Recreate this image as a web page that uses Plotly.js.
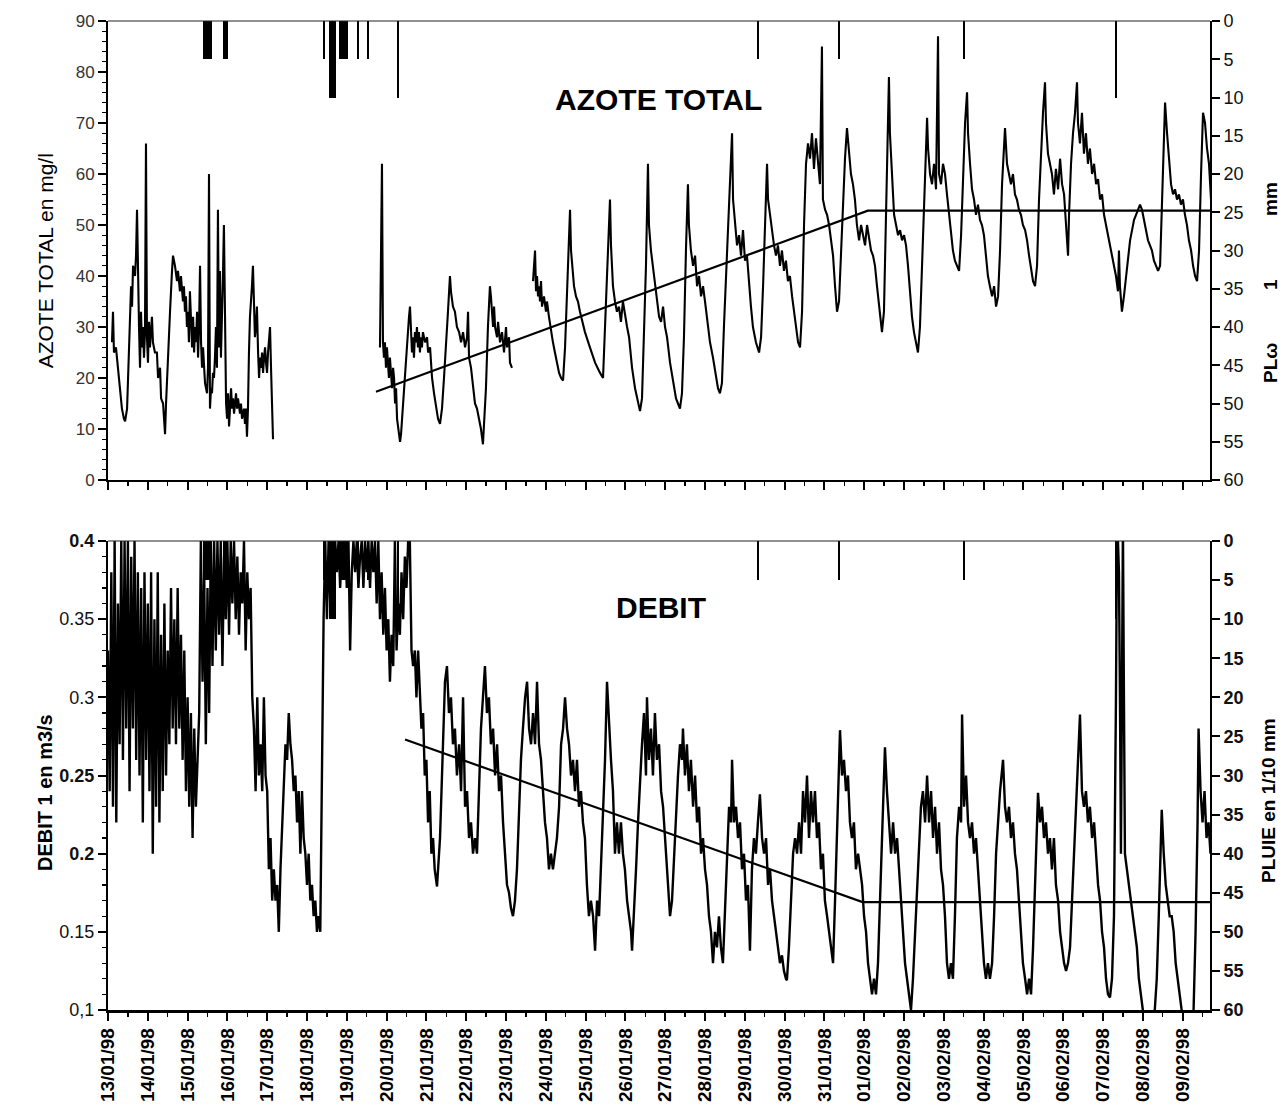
<!DOCTYPE html>
<html>
<head>
<meta charset="utf-8">
<script src="https://cdn.plot.ly/plotly-3.0.1.min.js"></script>
<style>
  html, body { margin: 0; padding: 0; background: #fff; }
  #graphe { width: 1288px; height: 1107px; }
</style>
</head>
<body>
<div id="graphe"></div>
<script>
// Azote total (mg/l): [heures depuis le 13/01/98 00:00, valeur]; null = lacune de mesure
const azoteReleves = [
  [2.4,27],[3.0,33],[3.6,25],[4.8,26],[6.0,22],[7.2,18],[8.4,14],[9.6,12],[10.3,11.5],[11.5,14],[12.7,25],[13.9,38],[14.5,34],[15.1,42],[16.3,40],[16.9,44],[17.5,53],[18.1,35],[18.7,30],[19.3,22],[19.9,33],[20.5,26],[21.1,30],[21.7,24],[22.3,29],[22.9,66],[23.5,28],[24.1,23],[24.7,31],[25.3,26],[25.9,30],[26.5,32],[27.1,27],[28.3,25],[29.5,25],[30.2,20],[31.4,22],[32.0,16],[33.2,15],[34.4,9],[35.0,15],[36.2,25],[37.4,33],[38.6,41],[39.2,44],[40.4,42],[41.6,39],[42.2,41],[43.4,37],[44.0,40],[45.2,35],[45.8,38],[46.4,33],[47.0,36],[47.6,30],[48.2,33],[48.8,27],[49.4,37],[50.0,30],[50.7,26],[51.3,32],[51.9,25],[52.5,30],[53.1,27],[53.7,33],[54.3,24],[54.9,30],[55.5,42],[56.1,27],[56.7,22],[57.3,26],[58.5,19],[59.7,17],[60.3,22],[60.9,60],[61.5,14],[62.1,18],[62.7,17],[63.3,21],[63.9,20],[64.5,24],[65.1,30],[65.7,22],[66.3,53],[66.9,26],[67.5,41],[68.1,24],[68.7,30],[69.3,40],[69.9,50],[70.6,26],[71.2,15],[71.8,12],[72.4,17],[73.0,10.5],[73.6,15],[74.2,18],[74.8,14],[75.4,16],[76.0,13],[77.2,17],[77.8,14],[78.4,16],[79.6,13],[80.2,15],[80.8,12],[82.0,14],[82.6,11],[83.2,14],[83.8,8.5],[84.4,14],[85.0,25],[85.6,32],[86.8,38],[87.4,42],[88.0,35],[88.6,28],[89.2,30],[89.8,34],[90.5,25],[91.1,20],[91.7,24],[92.3,22],[92.9,25],[93.5,21],[94.1,24],[94.7,26],[95.3,23],[95.9,21],[96.5,25],[97.1,27],[97.7,30],[98.3,22],[98.9,14],[99.5,8],
  [130,null],
  [164.0,26],[164.6,40],[165.2,62],[165.8,27],[166.4,24],[167.0,27],[167.6,22],[168.2,26],[168.8,23],[169.4,20],[170.0,24],[170.6,21],[171.3,18],[171.9,22],[172.5,20],[173.1,15],[173.7,18],[174.3,12],[174.9,10],[176.1,7.5],[176.7,9],[177.9,15],[179.1,22],[180.3,28],[181.5,32],[182.1,34],[182.7,30],[183.3,25],[183.9,28],[184.5,24],[185.1,29],[185.7,27],[186.3,30],[186.9,26],[187.5,29],[188.1,25],[188.7,28],[189.3,26],[189.9,29],[191.2,27],[192.4,28],[193.0,25],[194.2,26],[195.4,20],[196.6,17],[197.8,14],[199.0,12],[200.2,11],[201.4,14],[202.6,20],[203.8,28],[205.0,33],[206.2,40],[206.8,37],[208.0,34],[209.2,33],[210.4,30],[211.7,29],[212.9,27],[214.1,29],[215.3,26],[216.5,28],[217.1,33],[217.7,24],[218.9,22],[220.1,18],[221.3,15],[222.5,14],[223.7,12],[224.9,10],[226.1,7],[226.7,10],[227.9,18],[229.1,30],[230.3,38],[230.9,36],[231.6,33],[232.2,30],[232.8,34],[233.4,30],[234.6,28],[235.2,31],[236.4,27],[237.6,29],[238.8,25],[240.0,30],[240.6,26],[241.8,28],[242.4,23],[243.6,22],
  [250,null],
  [256.3,39],[257.5,45],[258.1,37],[258.7,40],[259.3,36],[259.9,38],[260.5,35],[261.1,39],[261.7,34],[262.9,36],[264.1,33],[264.7,35],[265.9,32],[267.1,29],[268.3,27],[269.5,25],[270.7,23],[272.0,21],[273.2,20],[274.4,19.5],[275.6,26],[276.8,37],[278.0,47],[278.6,53],[279.2,45],[279.8,42],[281.0,38],[282.2,36],[283.4,35],[284.6,33],[287.6,29],[290.6,26],[293.7,23],[296.7,21],[298.5,20],[300.3,35],[301.5,47],[302.7,55],[303.3,46],[304.5,38],[305.7,35],[306.9,33],[308.1,34],[309.3,31],[310.5,35],[311.8,32],[313.0,30],[314.2,28],[316.0,22],[317.8,18],[319.6,15],[320.8,13.5],[322.0,16],[323.2,28],[324.4,42],[325.6,62],[326.2,50],[327.4,45],[328.6,42],[329.8,38],[331.0,36],[332.3,32],[333.5,31],[334.7,34],[335.9,30],[337.1,28],[338.9,23],[340.7,19],[342.5,16],[343.7,15],[344.9,14],[346.1,17],[347.3,28],[348.5,45],[349.7,58],[350.3,50],[351.5,45],[352.8,42],[354.0,44],[355.2,38],[356.4,40],[357.6,36],[358.8,38],[360.0,35],[361.2,32],[363.0,27],[364.8,24],[366.6,20],[367.8,18],[369.0,17],[370.2,19],[371.4,30],[373.3,45],[375.1,58],[376.3,68],[376.9,55],[378.1,50],[379.3,46],[380.5,48],[381.7,44],[382.9,49],[384.1,43],[385.3,44],[386.5,38],[387.7,34],[388.9,30],[390.7,27],[392.6,25],[393.8,28],[395.0,38],[396.2,50],[397.4,62],[398.0,55],[399.2,52],[400.4,48],[401.6,46],[402.8,44],[404.0,46],[405.2,42],[406.4,45],[407.6,41],[408.8,43],[410.0,39],[411.2,40],[412.5,36],[413.7,33],[414.9,30],[416.1,27],[417.3,26],[418.5,33],[419.7,50],[420.9,62],[422.1,66],[423.3,63],[424.5,68],[425.7,61],[426.9,67],[428.1,62],[429.3,58],[430.5,85],[431.1,55],[432.4,53],[433.6,52],[434.8,50],[436.0,47],[437.2,44],[438.4,38],[439.6,33],[440.8,35],[442.0,45],[443.2,55],[444.4,63],[445.6,69],[446.8,64],[448.0,60],[449.2,58],[450.4,55],[451.6,50],[452.9,47],[454.1,50],[455.3,48],[456.5,46],[457.7,50],[458.9,47],[460.1,45],[461.3,44],[462.5,42],[463.7,38],[464.9,34],[466.1,31],[466.7,29],[467.9,33],[469.1,50],[470.3,70],[470.9,79],[471.5,68],[472.8,58],[474.0,52],[475.2,50],[476.4,48],[477.6,49],[478.8,47],[480.0,48],[481.2,46],[482.4,42],[483.6,36],[484.8,32],[486.0,29],[487.2,27],[488.4,25],[489.6,30],[490.8,42],[492.0,55],[493.3,64],[493.9,71],[494.5,65],[495.7,60],[496.9,58],[498.1,62],[499.3,57],[500.5,87],[501.1,60],[502.3,58],[503.5,62],[504.7,60],[505.9,56],[507.1,52],[508.3,48],[509.5,45],[510.7,43],[511.9,42],[513.2,41],[514.4,48],[515.6,60],[516.8,70],[518.0,76],[518.6,68],[519.8,62],[521.0,57],[522.2,55],[523.4,52],[524.6,54],[525.8,51],[527.0,50],[528.2,48],[529.4,44],[530.6,40],[531.8,38],[533.1,36],[534.3,38],[535.5,34],[536.7,36],[537.9,45],[539.1,58],[540.3,66],[540.9,69],[542.1,62],[543.3,60],[544.5,58],[545.7,60],[546.9,56],[548.1,55],[549.3,53],[550.5,52],[551.7,50],[553.0,49],[554.2,47],[555.4,44],[556.6,41],[557.8,39],[559.0,38],[560.2,42],[561.4,55],[562.6,65],[563.8,72],[565.0,78],[565.6,70],[566.8,64],[568.0,62],[569.2,60],[570.4,56],[571.6,61],[572.9,57],[574.1,63],[575.3,58],[576.5,56],[577.7,50],[578.9,44],[579.5,52],[580.7,62],[581.9,68],[583.1,72],[584.3,78],[584.9,70],[586.1,66],[587.3,72],[588.5,64],[589.7,68],[590.9,62],[592.1,65],[593.4,60],[594.6,62],[595.8,58],[597.0,59],[598.2,55],[599.4,56],[600.6,52],[601.8,50],[603.0,48],[604.2,46],[605.4,44],[606.6,42],[607.8,40],[609.0,37],[609.6,45],[610.2,38],[611.4,33],[612.6,36],[613.9,40],[615.1,44],[616.3,47],[617.5,49],[618.7,51],[619.9,52],[621.1,53],[622.3,54],[623.5,53],[624.7,51],[625.9,49],[627.1,47],[628.3,46],[629.5,45],[630.7,43],[631.9,42],[633.2,41],[634.4,42],[635.6,55],[636.8,68],[637.4,74],[638.6,68],[639.8,62],[641.0,58],[642.2,56],[643.4,57],[644.6,55],[645.8,56],[647.0,54],[648.2,55],[649.4,52],[650.6,50],[651.8,47],[653.1,45],[654.3,42],[655.5,40],[656.7,39],[657.9,45],[659.1,60],[660.3,72],[661.5,70],[662.7,65],[663.9,62],[665.1,55]
];

// Debit (m3/s), pas horaire du 13/01/98 00:00 jusqu'a 197 h
const debitHoraire = [
  0.33,0.24,0.38,0.23,0.40,0.22,0.36,0.27,0.40,0.26,
  0.40,0.28,0.40,0.24,0.39,0.28,0.40,0.26,0.38,0.25,
  0.37,0.22,0.38,0.26,0.36,0.24,0.38,0.20,0.35,0.23,
  0.38,0.22,0.34,0.24,0.36,0.25,0.33,0.27,0.37,0.28,
  0.35,0.27,0.37,0.28,0.34,0.26,0.33,0.24,0.30,0.23,
  0.29,0.21,0.28,0.23,0.26,0.29,0.40,0.31,0.38,0.27,
  0.37,0.29,0.40,0.32,0.40,0.33,0.40,0.34,0.40,0.32,
  0.39,0.35,0.40,0.34,0.40,0.36,0.40,0.35,0.39,0.34,
  0.38,0.36,0.40,0.33,0.38,0.35,0.37,0.30,0.28,0.24,
  0.30,0.25,0.27,0.24,0.30,0.25,0.24,0.19,0.21,0.17,
  0.19,0.17,0.18,0.15,0.19,0.22,0.25,0.27,0.26,0.29,
  0.27,0.26,0.24,0.25,0.22,0.24,0.20,0.24,0.21,0.20,
  0.18,0.20,0.17,0.18,0.16,0.17,0.15,0.16,0.15,0.25,
  0.35,0.40,0.35,0.40,0.36,0.40,0.37,0.40,0.38,0.40,
  0.37,0.40,0.38,0.40,0.37,0.40,0.33,0.38,0.40,0.38,
  0.40,0.37,0.39,0.40,0.37,0.40,0.38,0.40,0.37,0.40,
  0.38,0.40,0.36,0.40,0.35,0.38,0.34,0.37,0.33,0.35,
  0.31,0.34,0.32,0.40,0.33,0.36,0.34,0.38,0.35,0.39,
  0.37,0.40,0.40,0.33,0.32,0.33,0.30,0.33,0.30,0.28,
  0.29,0.25,0.26,0.22,0.24,0.20,0.21,0.19
];

// Debit (m3/s) ensuite: [heures depuis le 13/01/98 00:00, valeur]
const debitReleves = [
  [198.4,0.179],[200.2,0.21],[202.0,0.27],[203.2,0.31],[204.4,0.32],[205.6,0.29],[206.8,0.30],[208.0,0.27],[209.2,0.28],[210.4,0.25],[211.7,0.27],[212.9,0.24],[214.1,0.30],[215.3,0.23],[216.5,0.24],[217.7,0.21],[218.9,0.22],[220.1,0.20],[221.3,0.21],[222.5,0.20],[223.7,0.24],[224.9,0.28],[226.1,0.30],[227.3,0.32],[228.5,0.29],[229.7,0.30],[230.9,0.27],[232.2,0.28],[233.4,0.25],[234.6,0.27],[235.8,0.24],[237.0,0.25],[238.2,0.22],[239.4,0.20],[240.6,0.18],[241.8,0.175],[243.0,0.165],[244.2,0.16],[245.4,0.17],[246.6,0.19],[247.8,0.23],[249.0,0.26],[250.2,0.28],[251.5,0.30],[252.7,0.31],[253.9,0.28],[255.1,0.27],[256.3,0.29],[257.5,0.27],[258.7,0.31],[259.9,0.27],[261.1,0.26],[262.3,0.24],[263.5,0.22],[264.7,0.21],[265.9,0.19],[267.1,0.20],[268.3,0.19],[269.5,0.20],[270.7,0.21],[272.0,0.23],[273.2,0.27],[274.4,0.28],[275.6,0.30],[276.8,0.28],[278.0,0.27],[279.2,0.25],[280.4,0.26],[281.6,0.24],[282.8,0.26],[284.0,0.23],[285.2,0.24],[286.4,0.22],[287.6,0.21],[288.8,0.18],[290.0,0.16],[291.2,0.17],[292.5,0.16],[293.7,0.138],[294.9,0.17],[296.1,0.16],[297.3,0.19],[298.5,0.22],[299.7,0.26],[300.9,0.31],[302.1,0.28],[303.3,0.26],[304.5,0.24],[305.7,0.20],[306.9,0.22],[308.1,0.20],[309.3,0.22],[310.5,0.20],[311.7,0.19],[313.0,0.17],[314.2,0.16],[315.4,0.15],[316.0,0.138],[317.2,0.16],[318.4,0.19],[319.6,0.22],[320.8,0.25],[322.0,0.27],[323.2,0.29],[324.4,0.25],[325.0,0.30],[326.2,0.26],[327.4,0.28],[328.6,0.25],[329.8,0.29],[331.0,0.26],[332.3,0.27],[333.5,0.24],[334.7,0.23],[335.9,0.21],[337.1,0.19],[338.3,0.17],[338.9,0.16],[340.1,0.17],[341.3,0.20],[342.5,0.22],[343.7,0.25],[344.9,0.27],[346.1,0.26],[346.7,0.28],[347.9,0.25],[349.1,0.27],[350.3,0.24],[351.5,0.26],[352.8,0.23],[354.0,0.25],[355.2,0.22],[356.4,0.23],[357.6,0.20],[358.8,0.21],[360.0,0.19],[361.2,0.18],[362.4,0.16],[363.6,0.15],[364.8,0.13],[366.0,0.15],[367.2,0.14],[368.4,0.16],[369.6,0.14],[370.8,0.13],[372.1,0.17],[373.3,0.20],[374.5,0.23],[375.7,0.22],[376.3,0.26],[377.5,0.22],[378.7,0.23],[379.9,0.21],[381.1,0.22],[382.3,0.19],[383.5,0.20],[384.7,0.17],[385.9,0.18],[387.1,0.138],[388.3,0.19],[389.5,0.21],[390.7,0.20],[391.9,0.22],[393.1,0.238],[394.4,0.21],[395.6,0.20],[396.8,0.21],[398.0,0.18],[399.2,0.19],[400.4,0.17],[401.6,0.16],[402.8,0.15],[404.0,0.14],[405.2,0.13],[406.4,0.135],[407.6,0.125],[408.8,0.12],[409.4,0.119],[410.6,0.14],[411.8,0.17],[413.1,0.20],[414.3,0.21],[415.5,0.20],[416.7,0.22],[417.9,0.20],[419.1,0.24],[420.3,0.22],[421.5,0.25],[422.7,0.21],[423.9,0.24],[425.1,0.22],[426.3,0.24],[427.5,0.21],[428.7,0.22],[429.9,0.19],[431.1,0.20],[432.3,0.17],[433.6,0.16],[434.8,0.15],[436.0,0.14],[437.2,0.13],[438.4,0.17],[439.6,0.22],[440.8,0.26],[441.4,0.279],[442.6,0.25],[443.8,0.26],[445.0,0.24],[446.2,0.25],[447.4,0.22],[448.6,0.21],[449.8,0.22],[451.0,0.19],[452.3,0.20],[453.5,0.19],[454.7,0.18],[455.9,0.16],[457.1,0.15],[458.3,0.13],[459.5,0.12],[460.7,0.11],[461.9,0.12],[463.1,0.11],[464.3,0.13],[465.5,0.17],[466.7,0.21],[467.9,0.24],[468.5,0.268],[469.7,0.24],[470.9,0.22],[472.2,0.20],[473.4,0.22],[474.6,0.20],[475.8,0.21],[477.0,0.19],[478.2,0.17],[479.4,0.15],[480.6,0.13],[481.8,0.12],[483.0,0.11],[484.2,0.10],[485.4,0.12],[486.6,0.15],[487.8,0.18],[489.0,0.21],[490.2,0.23],[491.4,0.24],[492.7,0.22],[493.9,0.25],[495.1,0.22],[496.3,0.24],[497.5,0.21],[498.7,0.23],[499.9,0.20],[501.1,0.22],[502.3,0.19],[503.5,0.18],[504.7,0.16],[505.9,0.13],[507.1,0.12],[508.3,0.13],[509.5,0.12],[510.7,0.16],[511.9,0.21],[513.2,0.23],[514.4,0.22],[515.0,0.289],[516.2,0.23],[517.4,0.25],[518.6,0.22],[519.8,0.21],[521.0,0.22],[522.2,0.20],[523.4,0.21],[524.6,0.19],[525.8,0.17],[527.0,0.15],[528.2,0.13],[529.4,0.12],[530.6,0.13],[531.8,0.12],[533.1,0.13],[534.3,0.16],[535.5,0.20],[536.7,0.22],[537.9,0.24],[539.7,0.26],[540.9,0.23],[542.1,0.22],[543.3,0.23],[544.5,0.21],[545.7,0.22],[546.9,0.20],[548.1,0.19],[549.3,0.17],[550.5,0.15],[551.7,0.13],[553.0,0.12],[554.2,0.11],[555.4,0.12],[556.6,0.11],[557.8,0.14],[559.0,0.18],[560.2,0.21],[560.8,0.239],[562.0,0.22],[563.2,0.23],[564.4,0.21],[565.6,0.22],[566.8,0.20],[568.0,0.21],[569.2,0.19],[570.4,0.21],[571.6,0.18],[572.9,0.17],[574.1,0.15],[575.3,0.14],[576.5,0.13],[577.7,0.125],[578.9,0.13],[580.1,0.14],[581.3,0.17],[582.5,0.20],[583.7,0.24],[584.9,0.26],[586.1,0.289],[587.3,0.24],[588.5,0.23],[589.7,0.24],[590.9,0.22],[592.1,0.23],[593.4,0.21],[594.6,0.22],[595.8,0.20],[597.0,0.18],[598.2,0.17],[599.4,0.15],[600.6,0.14],[601.8,0.12],[603.0,0.11],[604.2,0.108],[605.4,0.12],[606.6,0.16],[607.8,0.30],[608.4,0.40],[609.0,0.40],[609.6,0.38],[610.2,0.30],[610.8,0.20],[611.4,0.30],[612.0,0.41],[612.6,0.30],[613.2,0.20],[614.4,0.19],[615.6,0.18],[616.8,0.17],[618.0,0.16],[619.2,0.15],[620.4,0.14],[621.6,0.12],[622.8,0.11],[624.0,0.10],[625.2,0.09],[626.4,0.095],[627.6,0.09],[628.8,0.098],[630.0,0.09],[631.2,0.10],[632.4,0.12],[633.6,0.16],[634.8,0.20],[635.4,0.228],[636.6,0.20],[637.8,0.18],[639.0,0.17],[640.2,0.16],[641.4,0.16],[642.6,0.15],[643.8,0.13],[645.0,0.12],[646.2,0.11],[647.4,0.10],[648.6,0.09],[649.8,0.095],[651.0,0.09],[652.2,0.098],[653.4,0.09],[654.6,0.10],[655.8,0.15],[657.0,0.22],[657.6,0.28],[658.8,0.24],[660.0,0.22],[661.2,0.24],[662.4,0.21],[663.6,0.22],[664.8,0.20]
];

// Pluie (echelle inversee, 0 en haut): [heure, hauteur]
const pluieReleves = [
  [58,5],[59,5],[60,5],[61,5],[62,5],
  [70,5],[71,5],[72,5],
  [130,5],
  [134,10],[135,10],[136,10],[137,10],
  [140,5],[141,5],[142,5],[143,5],[144,5],
  [151,5],[157,5],[175,10],
  [392,5],[441,5],[516,5],[608,10]
];

// Droites de tendance: [heure, valeur]
const tendanceAzote = [[161.6,17.3],[458.2,52.8],[664.5,52.8]];
const tendanceDebit = [[179.1,0.273],[455.0,0.169],[664.5,0.169]];

// Graduations de l'axe du debit
const debitTickVals = [0.1, 0.15, 0.2, 0.25, 0.3, 0.35, 0.4];
const debitTickText = ['0,1', '0.15', '<b>0.2</b>', '<b>0.25</b>', '0.3', '0.35', '<b>0.4</b>'];

const DEBUT = Date.UTC(1998, 0, 13);
const H = 3600 * 1000;
const versDate = h => DEBUT + h * H;

const azoteX = azoteReleves.map(p => versDate(p[0]));
const azoteY = azoteReleves.map(p => p[1]);
const debitX = debitHoraire.map((v, i) => versDate(i)).concat(debitReleves.map(p => versDate(p[0])));
const debitY = debitHoraire.concat(debitReleves.map(p => p[1]));
const pluieX = pluieReleves.map(p => versDate(p[0]));
const pluieY = pluieReleves.map(p => p[1]);

const noir = '#000';
const police = '"Liberation Sans", Arial, sans-serif';

const traces = [
  { type: 'bar', x: pluieX, y: pluieY, xaxis: 'x', yaxis: 'y2', width: 1.3 * H,
    marker: { color: noir, line: { width: 0 } }, hoverinfo: 'skip' },
  { type: 'bar', x: pluieX, y: pluieY, xaxis: 'x2', yaxis: 'y4', width: 1.3 * H,
    marker: { color: noir, line: { width: 0 } }, hoverinfo: 'skip' },
  { type: 'scatter', mode: 'lines', x: azoteX, y: azoteY, xaxis: 'x', yaxis: 'y',
    connectgaps: false, line: { color: noir, width: 2.1 } },
  { type: 'scatter', mode: 'lines', x: tendanceAzote.map(p => versDate(p[0])), y: tendanceAzote.map(p => p[1]),
    xaxis: 'x', yaxis: 'y', line: { color: noir, width: 2.2 } },
  { type: 'scatter', mode: 'lines', x: debitX, y: debitY, xaxis: 'x2', yaxis: 'y3',
    line: { color: noir, width: 2.4 } },
  { type: 'scatter', mode: 'lines', x: tendanceDebit.map(p => versDate(p[0])), y: tendanceDebit.map(p => p[1]),
    xaxis: 'x2', yaxis: 'y3', line: { color: noir, width: 2.2 } }
];

const plage = ['1998-01-13 00:00', '1998-02-09 16:30'];
const axeX = {
  type: 'date', range: plage, tick0: '1998-01-13', dtick: 86400000,
  ticks: 'outside', ticklen: 8, tickwidth: 2, tickcolor: noir,
  showline: true, linewidth: 2.5, linecolor: noir, showgrid: false, zeroline: false,
  minor: { dtick: 43200000, ticks: 'outside', ticklen: 4, tickwidth: 1.5, tickcolor: noir, showgrid: false }
};
const axeDroit = {
  side: 'right', range: [60, 0], tick0: 0, dtick: 5,
  ticks: 'outside', ticklen: 8, tickwidth: 2, tickcolor: noir,
  showline: true, linewidth: 2, linecolor: noir, showgrid: false, zeroline: false,
  tickfont: { size: 18, color: '#111' }
};

const nb = n => '\u00a0'.repeat(n);

const layout = {
  width: 1288, height: 1107,
  margin: { l: 108, r: 78, t: 21, b: 97 },
  paper_bgcolor: '#fff', plot_bgcolor: '#fff',
  showlegend: false, bargap: 0,
  font: { family: police, color: noir },
  xaxis: Object.assign({}, axeX, { domain: [0, 1], anchor: 'y', showticklabels: false }),
  yaxis: {
    domain: [0.5359, 1], anchor: 'x', range: [0, 90], tick0: 0, dtick: 10,
    ticks: 'outside', ticklen: 8, tickwidth: 2, tickcolor: noir,
    showline: true, linewidth: 2, linecolor: noir, showgrid: false, zeroline: false,
    tickfont: { size: 17, color: '#333' },
    minor: { dtick: 2, ticks: 'outside', ticklen: 4, tickwidth: 1.2, tickcolor: noir, showgrid: false }
  },
  yaxis2: Object.assign({}, axeDroit, { overlaying: 'y', anchor: 'x' }),
  xaxis2: Object.assign({}, axeX, {
    domain: [0, 1], anchor: 'y3', showticklabels: true, tickformat: '%d/%m/%y', tickangle: -90,
    tickfont: { size: 19, weight: 'bold', color: noir }
  }),
  yaxis3: {
    domain: [0, 0.4742], anchor: 'x2', range: [0.1, 0.4],
    tickmode: 'array', tickvals: debitTickVals, ticktext: debitTickText,
    ticks: 'outside', ticklen: 8, tickwidth: 2, tickcolor: noir,
    showline: true, linewidth: 2, linecolor: noir, showgrid: false, zeroline: false,
    tickfont: { size: 18, color: '#111' },
    minor: { tickmode: 'linear', tick0: 0.1, dtick: 0.01, ticks: 'outside', ticklen: 4, tickwidth: 1.2, tickcolor: noir, showgrid: false }
  },
  yaxis4: Object.assign({}, axeDroit, { overlaying: 'y3', anchor: 'x2', tickfont: { size: 18, weight: 'bold', color: '#111' } }),
  shapes: [
    { type: 'line', xref: 'x domain', yref: 'y domain', x0: 0, x1: 1, y0: 1, y1: 1, line: { color: '#222', width: 1.2 } },
    { type: 'line', xref: 'x2 domain', yref: 'y3 domain', x0: 0, x1: 1, y0: 1, y1: 1, line: { color: '#222', width: 1.2 } }
  ],
  annotations: [
    { text: '<b>AZOTE TOTAL</b>', xref: 'paper', yref: 'paper', x: 0.4994, y: 0.921,
      xanchor: 'center', yanchor: 'middle', showarrow: false, font: { size: 30, color: noir } },
    { text: '<b>DEBIT</b>', xref: 'paper', yref: 'paper', x: 0.5018, y: 0.4065,
      xanchor: 'center', yanchor: 'middle', showarrow: false, font: { size: 30, color: noir } },
    { text: 'AZOTE TOTAL en mg/l', xref: 'paper', yref: 'paper', x: -0.0572, y: 0.758,
      xanchor: 'center', yanchor: 'middle', textangle: -90, showarrow: false, font: { size: 21, color: noir } },
    { text: '<b>DEBIT 1 en m3/s</b>', xref: 'paper', yref: 'paper', x: -0.0572, y: 0.2204,
      xanchor: 'center', yanchor: 'middle', textangle: -90, showarrow: false, font: { size: 20, color: noir } },
    { text: '<b>PLω' + nb(10) + '1' + nb(12) + 'mm</b>', xref: 'paper', yref: 'paper', x: 1.0544, y: 0.736,
      xanchor: 'center', yanchor: 'middle', textangle: -90, showarrow: false, font: { size: 19, color: noir } },
    { text: '<b>PLUIE en 1/10 mm</b>', xref: 'paper', yref: 'paper', x: 1.0526, y: 0.2123,
      xanchor: 'center', yanchor: 'middle', textangle: -90, showarrow: false, font: { size: 19, color: noir } }
  ]
};

Plotly.newPlot('graphe', traces, layout, { staticPlot: true, displayModeBar: false });
</script>
</body>
</html>
